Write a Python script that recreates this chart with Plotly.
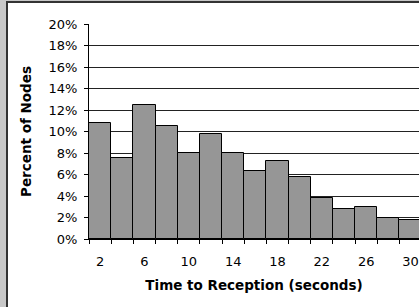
import plotly.graph_objects as go

times = [2, 4, 6, 8, 10, 12, 14, 16, 18, 20, 22, 24, 26, 28, 30]
percent = [10.8, 7.5, 12.5, 10.5, 8.0, 9.8, 8.0, 6.3, 7.3, 5.8, 3.8, 2.8, 3.0, 2.0, 1.8]
x_tick_vals = [2, 6, 10, 14, 18, 22, 26, 30]
x_tick_text = ["2", "6", "10", "14", "18", "22", "26", "30"]
y_tick_vals = [0, 2, 4, 6, 8, 10, 12, 14, 16, 18, 20]
y_tick_text = [f"{v}%" for v in y_tick_vals]
bin_edges = [t - 1 for t in times] + [times[-1] + 1]

W, H = 419, 307
L, R, T, B = 89, 0, 24, 68
pw, ph = W - L - R, H - T - B

def px(x):
    return (x - L) / pw

def py(y):
    return (H - B - y) / ph

fig = go.Figure()
fig.add_trace(go.Bar(
    x=times, y=percent, width=2,
    marker=dict(color="#969696", line=dict(color="black", width=1)),
    showlegend=False, hoverinfo="skip",
))

font = "DejaVu Sans, Verdana, sans-serif"
fig.update_layout(
    width=W, height=H,
    margin=dict(l=L, r=R, t=T, b=B, pad=0, autoexpand=False),
    paper_bgcolor="white", plot_bgcolor="white",
    bargap=0,
    font=dict(family=font, size=13, color="black"),
    xaxis=dict(
        range=[1, 30.76], tickmode="array", tickvals=x_tick_vals, ticktext=x_tick_text,
        ticks="", showgrid=False, showline=True, linecolor="black", linewidth=1,
        zeroline=False, ticklabelstandoff=10, automargin=False,
        minor=dict(tickmode="array", tickvals=bin_edges, ticks="outside", ticklen=4,
                   tickcolor="black", tickwidth=1, showgrid=False),
        title=dict(text="<b>Time to Reception (seconds)</b>", font=dict(size=13.5), standoff=12),
    ),
    yaxis=dict(
        range=[0, 20], tickmode="array", tickvals=y_tick_vals, ticktext=y_tick_text,
        ticks="outside", ticklen=4, tickcolor="black", showgrid=True, gridcolor="#222",
        gridwidth=1, showline=True, linecolor="black", linewidth=1, zeroline=False,
        ticklabelstandoff=4, automargin=False,
        title=dict(text="<b>Percent of Nodes</b>", font=dict(size=13.5), standoff=13),
    ),
    shapes=[
        dict(type="rect", xref="paper", yref="paper", x0=px(0), x1=px(6), y0=py(H), y1=py(0),
             fillcolor="#c8c8c8", line=dict(width=0), layer="below"),
        dict(type="rect", xref="paper", yref="paper", x0=px(0), x1=px(W), y0=py(1), y1=py(0),
             fillcolor="#c8c8c8", line=dict(width=0), layer="below"),
        dict(type="rect", xref="paper", yref="paper", x0=px(6), x1=px(8), y0=py(H), y1=py(1),
             fillcolor="#333333", line=dict(width=0), layer="below"),
        dict(type="rect", xref="paper", yref="paper", x0=px(6), x1=px(W), y0=py(3), y1=py(1),
             fillcolor="#333333", line=dict(width=0), layer="below"),
    ],
)

fig.write_html("out.html", config={"displayModeBar": False},
               post_script="document.body.style.margin='0';document.body.style.overflow='hidden';")
